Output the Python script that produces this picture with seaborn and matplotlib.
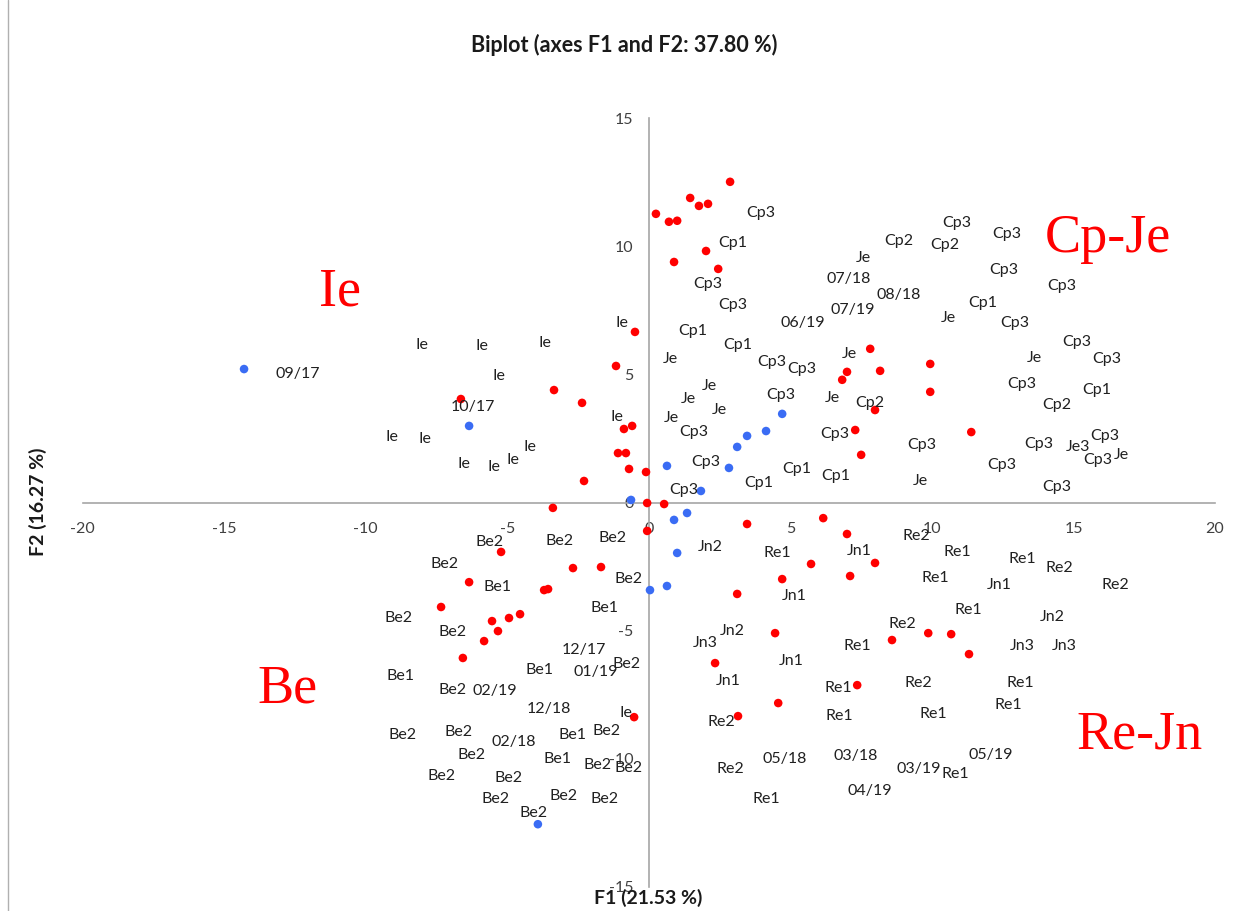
import numpy as np
import pandas as pd
import seaborn as sns
import matplotlib.pyplot as plt
from matplotlib.lines import Line2D

# ---------------- data ----------------
red_x = [0.25, 0.71, 1.00, 0.89, 1.46, 1.77, 2.09, 2.87, 2.02, 2.45,
         -0.49, -1.16, -3.35, -6.64, -2.36, -0.59, -0.88, -1.09, -0.81, -0.70,
         -0.10, -2.29, -3.39, -0.06, 0.54, 7.82, 9.94, 7.00, 8.17, 6.83,
         9.94, 7.99, 11.39, 7.29, 7.50, 6.16, 3.47, -0.06, -5.22, -2.68,
         -1.69, -6.35, -3.70, -3.56, -7.34, -4.55, -4.94, -5.54, -5.33, -5.82,
         -6.57, 7.00, 5.73, 7.99, 4.71, 7.11, 3.12, 4.46, 9.87, 10.68,
         8.59, 11.31, 2.34, 7.36, 4.57, 3.15, -0.52]
red_y = [11.27, 10.96, 11.00, 9.39, 11.89, 11.58, 11.66, 12.52, 9.82, 9.12,
         6.66, 5.33, 4.39, 4.04, 3.89, 2.99, 2.87, 1.93, 1.93, 1.31,
         1.19, 0.84, -0.21, -0.02, -0.06, 6.00, 5.41, 5.10, 5.14, 4.79,
         4.32, 3.61, 2.75, 2.83, 1.86, -0.61, -0.84, -1.11, -1.93, -2.56,
         -2.52, -3.11, -3.42, -3.38, -4.08, -4.36, -4.51, -4.63, -5.02, -5.41,
         -6.07, -1.23, -2.40, -2.36, -2.99, -2.87, -3.57, -5.10, -5.10, -5.14,
         -5.37, -5.92, -6.27, -7.13, -7.83, -8.34, -8.38]

blue_x = [-14.30, -6.35, 4.71, 4.14, 3.47, 3.12, 2.83, 0.64, 1.84, -0.63,
          1.35, 0.89, 1.00, 0.64, 0.04, -3.92]
blue_y = [5.21, 2.99, 3.46, 2.79, 2.60, 2.17, 1.35, 1.43, 0.45, 0.10,
          -0.41, -0.68, -1.97, -3.26, -3.42, -12.56]

label_text = [
    "09/17", "Ie", "Ie", "Ie", "Ie", "Ie", "10/17", "Ie", "Ie", "Ie",
    "Ie", "Ie", "Ie", "Ie",
    "Cp3", "Cp1", "Cp3", "Cp3", "Cp1", "Cp1", "Je", "06/19", "07/18", "07/19",
    "08/18", "Je", "Cp2", "Cp2", "Cp3", "Cp3", "Cp3", "Cp3", "Cp1", "Je",
    "Cp3", "Cp3", "Je", "Cp3", "Cp3", "Cp1", "Cp2", "Cp3", "Cp3", "Je3",
    "Cp3", "Je", "Cp3", "Cp3", "Je", "Cp3", "Je", "Cp3", "Cp3", "Je",
    "Je", "Cp3", "Je", "Cp2", "Je", "Je", "Cp3", "Cp3", "Cp3", "Cp1",
    "Cp1", "Cp1", "Cp3",
    "Be2", "Be2", "Be2", "Be2", "Be1", "Be2", "Be1", "Be2", "Be2", "12/17",
    "Be1", "Be2", "01/19", "Be1", "Be2", "02/19", "12/18", "Ie", "Be2", "Be2",
    "Be1", "Be2", "02/18", "Be2", "Be1", "Be2", "Be2", "Be2", "Be2", "Be2",
    "Be2", "Be2", "Be2",
    "Jn2", "Re1", "Jn1", "Re2", "Re1", "Re1", "Jn1", "Re1", "Jn2", "Re2",
    "Jn3", "Re1", "Jn1", "Jn1", "Re1", "Re2", "Jn3", "Jn3", "Re1", "Re1",
    "Re2", "Re1", "Re1", "05/18", "03/18", "05/19", "Re2", "03/19", "Re1", "04/19",
    "Re1", "Re1", "Re2", "Jn1", "Re2", "Jn2"]
label_x = [
    -12.40, -8.01, -5.89, -3.67, -0.95, -5.29, -6.21, -1.12, -9.07, -7.91,
    -6.53, -5.47, -4.80, -4.20,
    3.96, 2.98, 2.09, 2.98, 1.56, 3.15, 0.75, 5.45, 7.07, 7.22,
    8.84, 7.57, 8.84, 10.47, 10.86, 12.66, 12.52, 14.60, 11.81, 10.57,
    12.94, 15.13, 13.61, 16.19, 13.19, 15.84, 14.42, 16.12, 13.79, 15.17,
    15.87, 16.69, 12.45, 14.42, 9.58, 9.65, 7.07, 4.35, 5.41, 2.13,
    1.39, 4.67, 6.47, 7.82, 2.48, 0.78, 1.60, 6.58, 2.02, 5.24,
    6.61, 3.89, 1.24,
    -5.61, -3.14, -1.27, -7.20, -5.36, -0.70, -1.58, -8.83, -6.92, -2.29,
    -3.88, -0.77, -1.87, -8.76, -6.92, -5.43, -3.53, -0.81, -8.69, -6.71,
    -2.71, -1.51, -4.76, -6.25, -3.24, -1.80, -0.73, -7.34, -4.94, -5.40,
    -3.03, -1.55, -4.09,
    2.16, 4.53, 7.43, 9.44, 10.89, 10.11, 5.13, 11.28, 2.94, 8.95,
    1.99, 7.36, 5.02, 2.80, 6.69, 9.51, 13.19, 14.67, 13.12, 12.69,
    2.55, 6.72, 10.04, 4.81, 7.32, 12.09, 2.87, 9.55, 10.82, 7.82,
    4.14, 13.19, 14.49, 12.37, 16.47, 14.25]
label_y = [
    5.02, 6.15, 6.11, 6.23, 7.01, 4.94, 3.73, 3.34, 2.56, 2.48,
    1.50, 1.39, 1.66, 2.17,
    11.31, 10.14, 8.54, 7.71, 6.70, 6.15, 5.61, 7.01, 8.73, 7.52,
    8.11, 9.55, 10.21, 10.06, 10.92, 10.49, 9.08, 8.46, 7.79, 7.21,
    7.01, 6.27, 5.64, 5.61, 4.63, 4.39, 3.81, 2.60, 2.29, 2.17,
    1.66, 1.86, 1.46, 0.61, 0.84, 2.25, 5.80, 5.49, 5.21, 4.55,
    4.04, 4.20, 4.08, 3.89, 3.61, 3.30, 2.75, 2.68, 1.58, 1.31,
    1.04, 0.76, 0.49,
    -1.54, -1.50, -1.39, -2.40, -3.30, -2.99, -4.12, -4.51, -5.06, -5.76,
    -6.54, -6.31, -6.62, -6.78, -7.32, -7.36, -8.07, -8.22, -9.08, -8.96,
    -9.08, -8.93, -9.36, -9.86, -10.02, -10.25, -10.37, -10.68, -10.76, -11.58,
    -11.46, -11.58, -12.13,
    -1.74, -1.97, -1.89, -1.31, -1.93, -2.95, -3.65, -4.20, -5.02, -4.75,
    -5.49, -5.61, -6.19, -6.97, -7.25, -7.05, -5.61, -5.61, -7.05, -7.91,
    -8.57, -8.34, -8.26, -10.02, -9.90, -9.86, -10.41, -10.41, -10.61, -11.27,
    -11.58, -2.21, -2.56, -3.22, -3.22, -4.47]

group_text = ["Ie", "Cp-Je", "Be", "Re-Jn"]
group_x = [-10.91, 16.23, -12.75, 17.32]
group_y = [7.71, 9.77, -7.79, -9.62]

x_ticks = [-20, -15, -10, -5, 0, 5, 10, 15, 20]
y_ticks = [-15, -10, -5, 0, 5, 10, 15]

title = "Biplot (axes F1 and F2: 37.80 %)"
x_label = "F1 (21.53 %)"
y_label = "F2 (16.27 %)"

# ---------------- style ----------------
sns.set_style("white")
plt.rcParams['font.family'] = ['Lato', 'DejaVu Sans']
plt.rcParams['axes.unicode_minus'] = False

W, H = 1236, 911
fig = plt.figure(figsize=(W / 100, H / 100), dpi=100)
ax = fig.add_axes([82.7 / W, 1 - 886.7 / H, 1132.3 / W, 768.4 / H])

red_df = pd.DataFrame({"F1": red_x, "F2": red_y})
blue_df = pd.DataFrame({"F1": blue_x, "F2": blue_y})
sns.scatterplot(data=red_df, x="F1", y="F2", color="#FF0000", s=38,
                edgecolor="none", ax=ax, zorder=4)
sns.scatterplot(data=blue_df, x="F1", y="F2", color="#3A6CF4", s=38,
                edgecolor="none", ax=ax, zorder=4)

for t, x, y in zip(label_text, label_x, label_y):
    ax.text(x, y, t, ha="center", va="center", fontsize=11.5,
            color="#202020", zorder=5)

for t, x, y in zip(group_text, group_x, group_y):
    ax.text(x, y, t, ha="center", va="baseline", fontsize=39,
            color="#FF0000", family="Liberation Serif", zorder=5)

ax.set_xlim(-20, 20)
ax.set_ylim(-15, 15)
ax.set_xticks(x_ticks)
ax.set_yticks(y_ticks)
ax.set_xlabel("")
ax.set_ylabel("")

axis_col = "#A6A6A6"
for s in ["top", "right"]:
    ax.spines[s].set_visible(False)
ax.spines["left"].set_position(("data", 0))
ax.spines["bottom"].set_position(("data", 0))
for s in ["left", "bottom"]:
    ax.spines[s].set_color(axis_col)
    ax.spines[s].set_linewidth(1.2)
    ax.spines[s].set_zorder(2)
ax.tick_params(axis="both", which="both", direction="out", length=4,
               width=1.0, color=axis_col, labelsize=11.5, labelcolor="#404040")
ax.tick_params(axis="y", pad=7)
ax.tick_params(axis="x", pad=10)
ax.patch.set_alpha(0)

fig.text(624 / W, 1 - 45 / H, title, ha="center", va="center",
         fontsize=15.5, fontweight="bold", color="#1a1a1a")
fig.text(648 / W, 1 - 898 / H, x_label, ha="center", va="center",
         fontsize=14, fontweight="bold", color="#1a1a1a")
fig.text(38 / W, 1 - 502 / H, y_label, ha="center", va="center",
         rotation=90, fontsize=14, fontweight="bold", color="#1a1a1a")

fig.add_artist(Line2D([8 / W, 8 / W], [0, 1], color="#B0B0B0", lw=1.0,
                      transform=fig.transFigure))

fig.savefig("out.png", dpi=100, facecolor="white")
